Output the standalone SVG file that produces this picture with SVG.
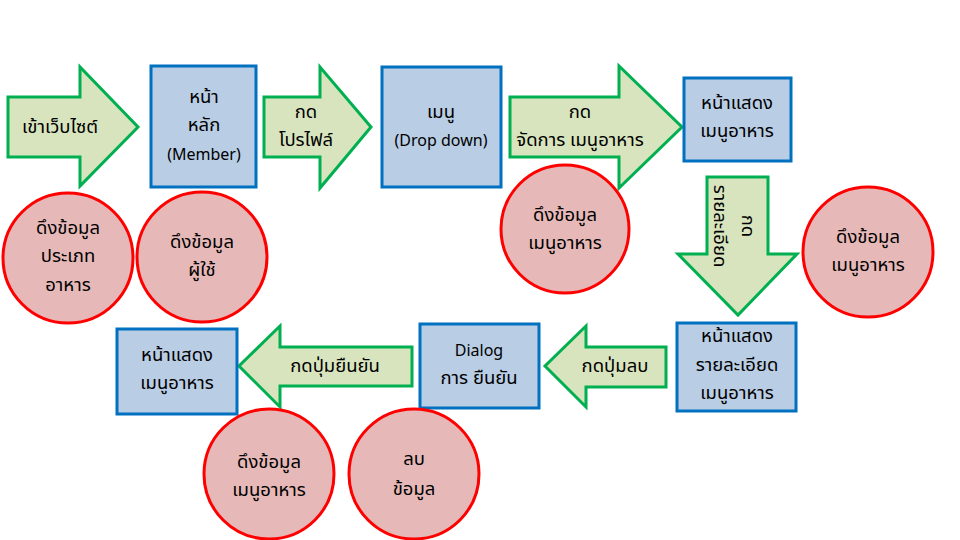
<svg xmlns="http://www.w3.org/2000/svg" width="960" height="540" viewBox="0 0 960 540">
<style>
.arr{fill:#D7E4BD;stroke:#00B050;stroke-width:3;stroke-linejoin:miter}
.box{fill:#B9CDE5;stroke:#0070C0;stroke-width:3}
.cir{fill:#E6B9B8;stroke:#FF0000;stroke-width:3}
text{font-family:"Noto Sans Thai","Noto Sans","DejaVu Sans",sans-serif;font-size:18.5px;fill:#000;text-anchor:middle}
text.lat{font-size:16px}
</style>
<rect width="960" height="540" fill="#fff"/>
<g id="connectors">
<g id="a1"><polygon class="arr" points="8,97 80,97 80,67 138,127 80,186 80,157 8,157"/><text x="60" y="133">เข้าเว็บไซต์</text></g>
<g id="a2"><polygon class="arr" points="264,97 320,97 320,67 371,127 320,188 320,157 264,157"/><text x="306" y="118">กด</text><text x="306" y="146">โปรไฟล์</text></g>
<g id="a3"><polygon class="arr" points="510,97 619,97 619,66 682,127 619,188 619,157 510,157"/><text x="580" y="118">กด</text><text x="580" y="146">จัดการ เมนูอาหาร</text></g>
<g id="a4"><polygon class="arr" points="707,177 768,177 768,254 797,254 738,315 678,254 707,254"/><text transform="translate(738,226) rotate(90)" y="-4">กด</text><text transform="translate(738,226) rotate(90)" y="24">รายละเอียด</text></g>
<g id="a5"><polygon class="arr" points="666,347 586,347 586,326 545,366 586,407 586,387 666,387"/><text x="615" y="372">กดปุ่มลบ</text></g>
<g id="a6"><polygon class="arr" points="412,347 280,347 280,326 239,366 280,407 280,386 412,386"/><text x="335" y="372">กดปุ่มยืนยัน</text></g>
</g>
<g id="n1"><rect class="box" x="151" y="66" width="105" height="121"/><text x="204" y="103">หน้า</text><text x="204" y="131">หลัก</text><text class="lat" x="204" y="160">(Member)</text></g>
<g id="n2"><rect class="box" x="382" y="67" width="119" height="120"/><text x="441" y="118">เมนู</text><text class="lat" x="441" y="146">(Drop down)</text></g>
<g id="n3"><rect class="box" x="684" y="78" width="107" height="83"/><text x="737" y="109">หน้าแสดง</text><text x="737" y="137">เมนูอาหาร</text></g>
<g id="n4"><rect class="box" x="677" y="323" width="119" height="88"/><text x="737" y="342">หน้าแสดง</text><text x="737" y="371">รายละเอียด</text><text x="737" y="399">เมนูอาหาร</text></g>
<g id="n5"><rect class="box" x="420" y="324" width="119" height="84"/><text class="lat" x="479" y="356">Dialog</text><text x="479" y="384">การ ยืนยัน</text></g>
<g id="n6"><rect class="box" x="117" y="329" width="120" height="85"/><text x="177" y="361">หน้าแสดง</text><text x="177" y="389">เมนูอาหาร</text></g>
<g id="c1"><circle class="cir" cx="68" cy="258" r="65"/><text x="68" y="234">ดึงข้อมูล</text><text x="68" y="262">ประเภท</text><text x="68" y="291">อาหาร</text></g>
<g id="c2"><circle class="cir" cx="202" cy="257" r="65"/><text x="202" y="248">ดึงข้อมูล</text><text x="202" y="276">ผู้ใช้</text></g>
<g id="c3"><circle class="cir" cx="565" cy="229" r="64"/><text x="565" y="221">ดึงข้อมูล</text><text x="565" y="249">เมนูอาหาร</text></g>
<g id="c4"><circle class="cir" cx="868" cy="252" r="65"/><text x="868" y="243">ดึงข้อมูล</text><text x="868" y="271">เมนูอาหาร</text></g>
<g id="c5"><circle class="cir" cx="269" cy="474" r="65"/><text x="269" y="468">ดึงข้อมูล</text><text x="269" y="496">เมนูอาหาร</text></g>
<g id="c6"><circle class="cir" cx="414" cy="474" r="65"/><text x="414" y="465">ลบ</text><text x="414" y="495">ข้อมูล</text></g>
</svg>
